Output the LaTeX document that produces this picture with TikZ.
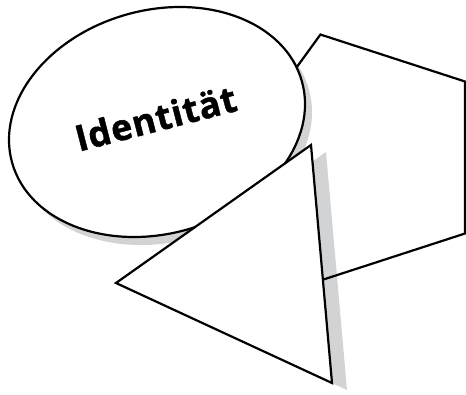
\documentclass[tikz,border=0pt]{standalone}
\usepackage{fontspec}
\newfontfamily\labelfont[LetterSpace=2, BoldFeatures={FakeBold=1.2}]{Open Sans}
\begin{document}
\begin{tikzpicture}[x=1pt, y=-1pt, line width=2.2pt]
	\definecolor{shadowgray}{RGB}{209, 211, 212}
	\useasboundingbox (0,0) rectangle (466,394);
	
	% 坐标
	\coordinate (ell) at (157,122);
	\coordinate (tritop) at (311,145);
	\coordinate (trileft) at (116,283);
	\coordinate (tribottom) at (332,383);
	
	% 阴影
	\fill[shadowgray] ([shift={(7,8)}]ell) ellipse[x radius=150.5pt, y radius=111.7pt, rotate=15.7];
	\fill[shadowgray] ([shift={(15,7)}]tritop) -- ([shift={(15,7)}]trileft) -- ([shift={(15,7)}]tribottom) -- cycle;
	
	% 五边形
	\draw[shift={(360.4,157.5)}] (180:129.3) -- (252:129.3) -- (324:129.3) -- (36:129.3) -- (108:129.3) -- cycle;
	
	% 椭圆与文字
	\draw[fill=white] (ell) ellipse[x radius=150.5pt, y radius=111.7pt, rotate=15.7];
	\node[rotate=14.5, anchor=base, inner sep=0pt, font=\labelfont\bfseries\fontsize{36}{36}\selectfont] (label) at (159,131) {Identität};
	
	% 三角形
	\draw[fill=white] (tritop) -- (trileft) -- (tribottom) -- cycle;
\end{tikzpicture}
\end{document}
